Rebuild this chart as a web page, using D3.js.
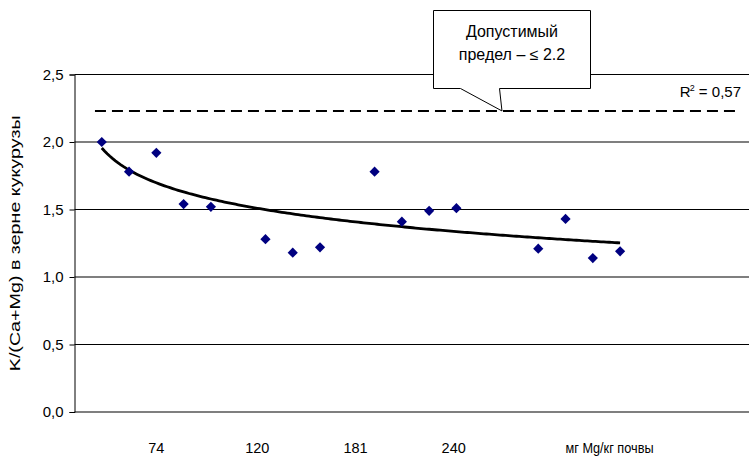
<!DOCTYPE html>
<html><head><meta charset="utf-8">
<script src="https://cdn.jsdelivr.net/npm/d3@7"></script>
<style>body{margin:0;background:#fff}svg{display:block}</style>
</head><body><svg id="c" width="749" height="456"></svg>
<script>
// ---- data ----
const pointX = [1,2,3,4,5,7,8,9,11,12,13,14,17,18,19,20];        // category position
const pointY = [2.00,1.78,1.92,1.54,1.52,1.28,1.18,1.22,1.78,1.41,1.49,1.51,1.21,1.43,1.14,1.19];
const yTicks = [0,0.5,1.0,1.5,2.0,2.5];
const xTickPos = [3, 6.7, 10.3, 13.9];
const xTickLabels = ["74","120","181","240"];
const unitLabel = "мг Mg/кг почвы";
const yTitle = "K/(Ca+Mg) в зерне кукурузы";
const limitValue = 2.23;
const limitText = ["Допустимый","предел – ≤ 2.2"];
const r2Text = "0,57";

// ---- scales ----
const svg = d3.select("#c");
const font = "'Liberation Sans', Arial, sans-serif";
const x = d3.scaleLinear().domain([0,25]).range([74.5, 756.5]);
const y = d3.scaleLinear().domain([0,2.5]).range([412, 74.5]);

// gridlines
svg.append("g").selectAll("line").data(yTicks).join("line")
  .attr("x1", x(0)).attr("x2", 749)
  .attr("y1", d=>y(d)).attr("y2", d=>y(d))
  .attr("stroke",(d,i)=> i%2===0 ? "#555" : "#000").attr("stroke-width",(d,i)=> i%2===0 ? 1.3 : 1);

// y axis
const yAxis = d3.axisLeft(y).tickValues(yTicks).tickSize(5).tickPadding(6)
  .tickFormat(d=>d3.format(".1f")(d).replace(".",","));
const ga = svg.append("g").attr("transform",`translate(${x(0)},0)`).call(yAxis);
ga.select(".domain").attr("stroke","#000");
ga.selectAll("text").attr("font-family",font).attr("font-size",15).attr("fill","#000");

// x tick labels
svg.append("g").selectAll("text").data(xTickPos).join("text")
  .attr("x", d=>x(d)).attr("y", 453).attr("text-anchor","middle")
  .attr("font-family",font).attr("font-size",14.5).text((d,i)=>xTickLabels[i]);
svg.append("text").attr("x", x(18.0)).attr("y",453).attr("font-family",font).attr("font-size",14.5)
  .attr("textLength",88).attr("lengthAdjust","spacingAndGlyphs").text(unitLabel);

// y title
svg.append("text").attr("transform",`translate(20,${(y(0)+y(2.5))/2}) rotate(-90)`)
  .attr("text-anchor","middle").attr("font-family",font).attr("font-size",15)
  .attr("textLength",256).attr("lengthAdjust","spacingAndGlyphs").text(yTitle);

// limit dashed line
svg.append("line").attr("x1",x(0.75)).attr("x2",x(24.3))
  .attr("y1",y(limitValue)).attr("y2",y(limitValue))
  .attr("stroke","#000").attr("stroke-width",2).attr("stroke-dasharray","11,6");

// log trend (least squares on ln x)
const L = pointX.map(Math.log);
const mL = d3.mean(L), mY = d3.mean(pointY);
const sxy = d3.sum(L.map((l,i)=>(l-mL)*(pointY[i]-mY)));
const sxx = d3.sum(L.map(l=>(l-mL)**2));
const b = sxy/sxx, a = mY - b*mL;
const tx = d3.range(1, 20.001, 0.1);
svg.append("path").datum(tx)
  .attr("d", d3.line().x(d=>x(d)).y(d=>y(a+b*Math.log(d))))
  .attr("fill","none").attr("stroke","#000").attr("stroke-width",2.8);

// markers
svg.append("g").selectAll("path").data(pointX).join("path")
  .attr("d", d3.symbol(d3.symbolSquare, 52))
  .attr("transform",(d,i)=>`translate(${x(d)},${y(pointY[i])}) rotate(45)`)
  .attr("fill","#000080");

// callout
const tipX = x(15.67), tipY = y(limitValue);
const bx0 = 433.5, bx1 = 590.5, by0 = 10.5, by1 = 88.5;
svg.append("path")
  .attr("d",`M${bx0},${by0}H${bx1}V${by1}H${499.5}L${tipX},${tipY}L${460.5},${by1}H${bx0}Z`)
  .attr("fill","#fff").attr("stroke","#000").attr("stroke-width",1);
svg.append("text").attr("x",(bx0+bx1)/2).attr("text-anchor","middle")
  .attr("font-family",font).attr("font-size",16)
  .selectAll("tspan").data(limitText).join("tspan")
  .attr("x",(bx0+bx1)/2).attr("y",(d,i)=>37+i*23).text(d=>d);

// R^2 label
const rt = svg.append("text").attr("x",741).attr("y",97).attr("text-anchor","end")
  .attr("font-family",font).attr("font-size",15);
rt.append("tspan").text("R");
rt.append("tspan").attr("dy",-6).attr("font-size",9).attr("dx",-1).text("2");
rt.append("tspan").attr("dy",6).text(" = " + r2Text);
</script></body></html>
